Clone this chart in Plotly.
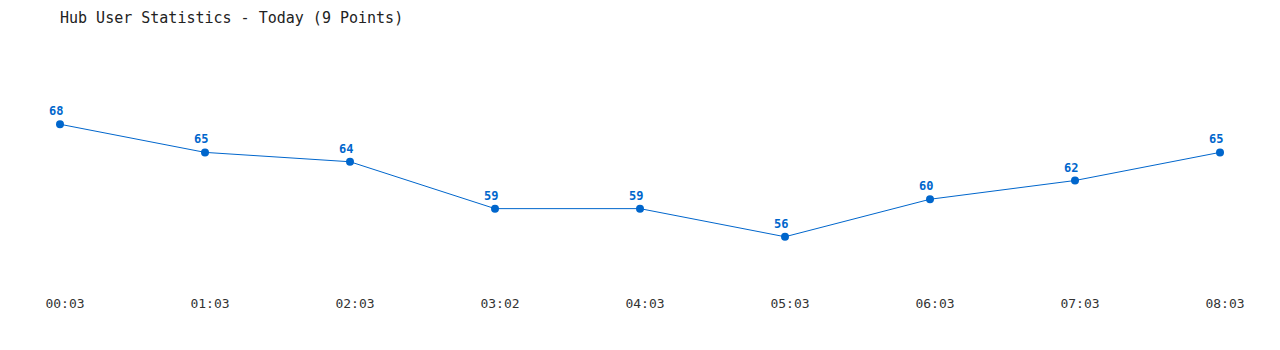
import plotly.graph_objects as go

times = ["00:03", "01:03", "02:03", "03:02", "04:03", "05:03", "06:03", "07:03", "08:03"]
users = [68, 65, 64, 59, 59, 56, 60, 62, 65]
title_text = "Hub User Statistics - Today (9 Points)"

blue = "#0066cc"
mono = "DejaVu Sans Mono, Liberation Mono, monospace"

xs = list(range(len(times)))

fig = go.Figure()
fig.add_trace(go.Scatter(
    x=xs, y=users, mode="lines+markers",
    line=dict(color=blue, width=1),
    marker=dict(color=blue, size=8),
    cliponaxis=False,
    hoverinfo="skip", showlegend=False,
))

for xi, v in zip(xs, users):
    fig.add_annotation(x=xi, y=v, text=str(v), showarrow=False,
                       xshift=-4, yshift=13,
                       font=dict(family=mono, size=12, color=blue, weight="bold"))

fig.update_layout(
    width=1280, height=350,
    margin=dict(l=60, r=60, t=68, b=57),
    paper_bgcolor="white", plot_bgcolor="white",
    title=dict(text=title_text, x=60/1280, xanchor="left", xref="container",
               y=1-18/350, yanchor="middle", yref="container",
               font=dict(family=mono, size=15, color="#222222")),
    xaxis=dict(range=[0, 8], tickvals=xs, ticktext=times, showgrid=False,
               zeroline=False, showline=False, ticks="", ticklabelshift=5,
               ticklabelstandoff=1,
               tickfont=dict(family=mono, size=13, color="#333333")),
    yaxis=dict(range=[50, 74], showgrid=False, zeroline=False, showline=False,
               showticklabels=False, ticks=""),
)

fig.write_html("out.html")
